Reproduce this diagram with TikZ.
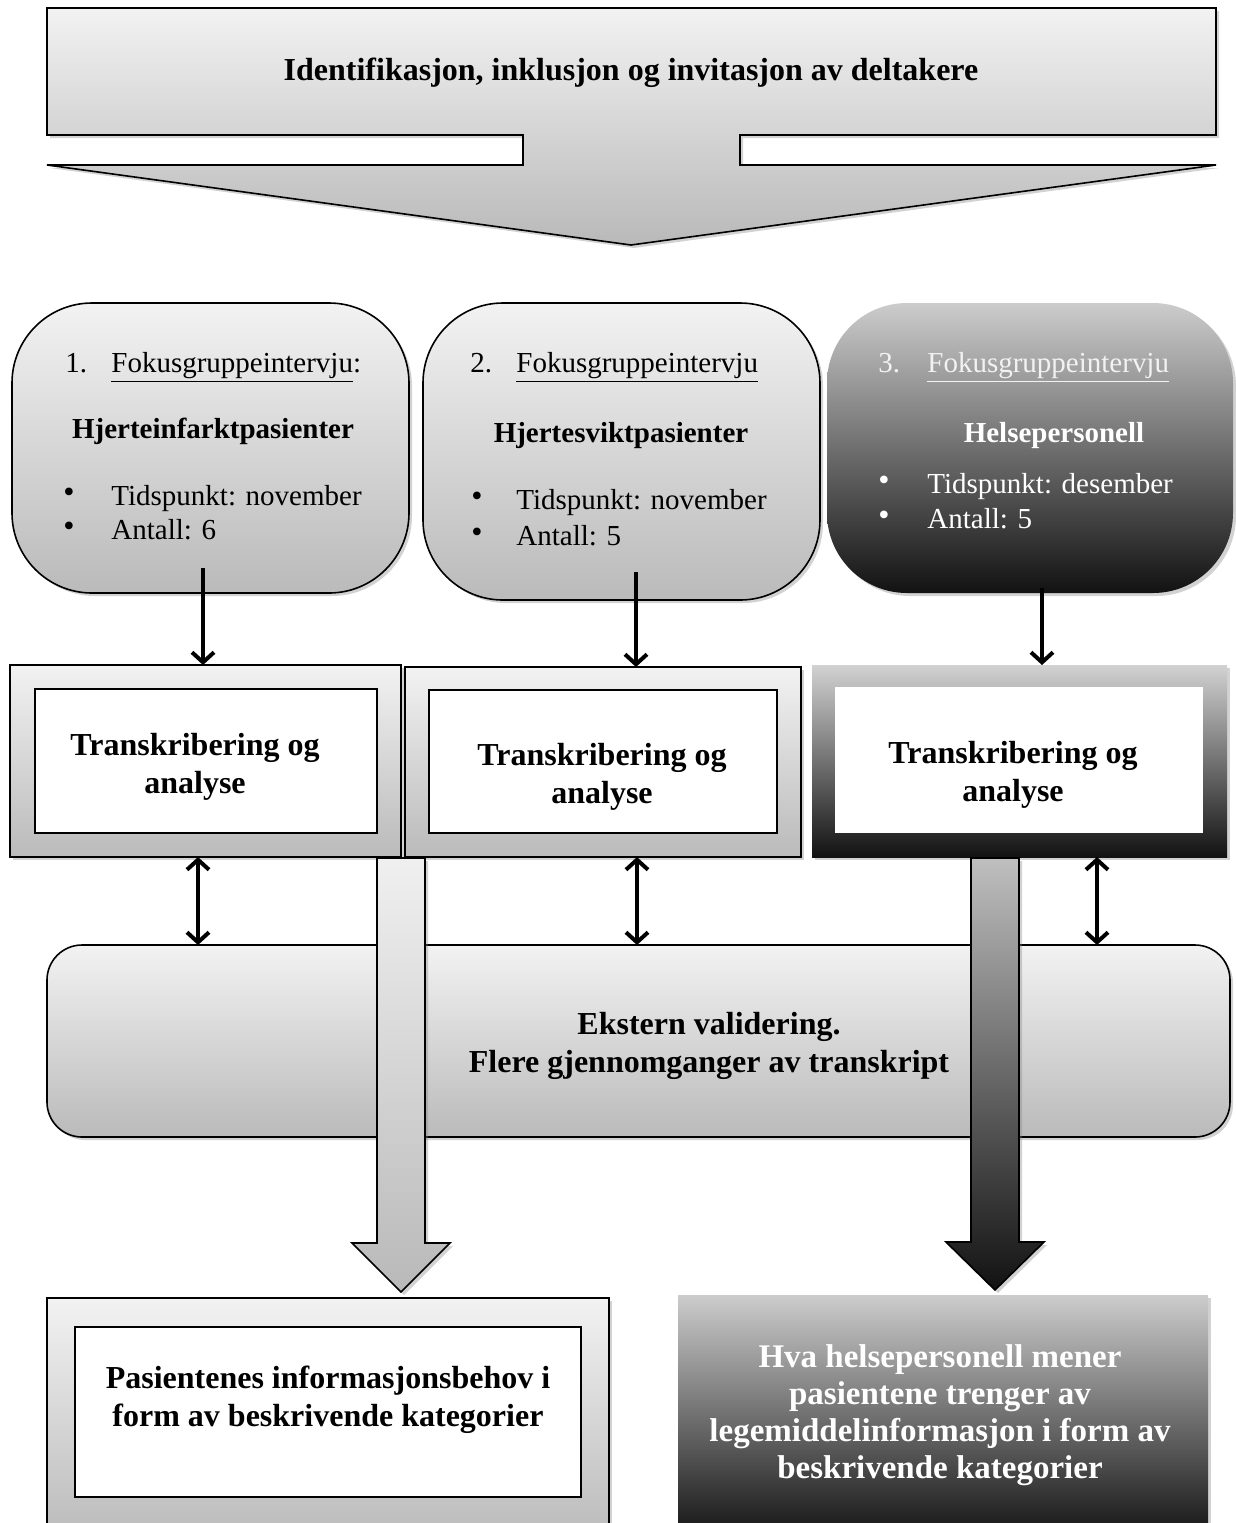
\documentclass[tikz,border=0pt]{standalone}
\usepackage{fontspec}
\setmainfont{Liberation Serif}
\usetikzlibrary{calc,arrows.meta,shadows}

% grey tones of the shaded shapes
\definecolor{paleTop}{gray}{0.95}
\definecolor{paleBot}{gray}{0.73}
\definecolor{darkTop}{gray}{0.80}
\definecolor{darkBot}{gray}{0.07}

\begin{document}
\begin{tikzpicture}[x=0.5pt,y=-0.5pt,
  shade/.style={drop shadow={opacity=0.35,shadow xshift=1.5pt,shadow yshift=-1.5pt}},
  pale/.style={top color=paleTop,bottom color=paleBot,draw=black,line width=0.8pt},
  dark/.style={top color=darkTop,bottom color=darkBot,draw=none},
  box/.style={rectangle,inner sep=0pt,outer sep=0pt},
  roundbox/.style={box,rounded corners=40pt,shade},
  whitebox/.style={box,fill=white},
  txt/.style={inner sep=0pt,font=\fontsize{14.5}{17}\selectfont},
  btxt/.style={inner sep=0pt,font=\bfseries\fontsize{14.5}{17}\selectfont},
  dot/.style={inner sep=0pt,anchor=west,font=\fontsize{16}{16}\selectfont},
  big/.style={inner sep=0pt,align=center,font=\bfseries\fontsize{16}{19}\selectfont},
  conn/.style={line width=2pt,-{Straight Barb[length=5pt,width=11pt]}},
  dconn/.style={line width=2pt,{Straight Barb[length=5pt,width=11pt]}-{Straight Barb[length=5pt,width=11pt]}},
]
\useasboundingbox (0,0) rectangle (1236,1523);
\fill[white] (0,0) rectangle (1236,1523);
\clip (0,0) rectangle (1236,1523);

% ---- recruitment block arrow at the top ----
\path[pale,shade,line width=0.8pt,top color=paleTop,bottom color={gray!55!white}]
  (47,8) -- (1216,8) -- (1216,135) -- (740,135) -- (740,165) -- (1216,165)
  -- (631,245) -- (47,165) -- (523,165) -- (523,135) -- (47,135) -- cycle;
\node[big] (title) at (631,73) {Identifikasjon, inklusjon og invitasjon av deltakere};

% ---- focus groups ----
\node[roundbox,pale,minimum width=198.5pt,minimum height=145pt] (r1) at (210.5,448) {};
\node[roundbox,pale,minimum width=198.5pt,minimum height=148.5pt] (r2) at (621.5,451.5) {};
\node[roundbox,dark,minimum width=203pt,minimum height=145pt] (r3) at (1030,448) {};

\node[txt,anchor=base west] (r1n) at (65,372) {1.};
\node[txt,anchor=base west] (r1h) at (111,372) {\underline{Fokusgruppeintervju}:};
\node[btxt,anchor=base] (r1g) at (213,438) {Hjerteinfarktpasienter};
\node[dot] (r1b1) at (63,495) {\textbullet};
\node[txt,anchor=base west] (r1t1) at (111,505) {Tidspunkt: november};
\node[dot] (r1b2) at (63,529) {\textbullet};
\node[txt,anchor=base west] (r1t2) at (111,539) {Antall: 6};

\node[txt,anchor=base west] (r2n) at (470,372) {2.};
\node[txt,anchor=base west] (r2h) at (516,372) {\underline{Fokusgruppeintervju}};
\node[btxt,anchor=base] (r2g) at (621,442) {Hjertesviktpasienter};
\node[dot] (r2b1) at (471,499) {\textbullet};
\node[txt,anchor=base west] (r2t1) at (516,509) {Tidspunkt: november};
\node[dot] (r2b2) at (471,535) {\textbullet};
\node[txt,anchor=base west] (r2t2) at (516,545) {Antall: 5};

\node[txt,anchor=base west,text=gray!10] (r3n) at (878,372) {3.};
\node[txt,anchor=base west,text=gray!10] (r3h) at (927,372) {\underline{Fokusgruppeintervju}};
\node[btxt,anchor=base,text=white] (r3g) at (1054,442) {Helsepersonell};
\node[dot,text=white] (r3b1) at (878,483) {\textbullet};
\node[txt,anchor=base west,text=white] (r3t1) at (927,493) {Tidspunkt: desember};
\node[dot,text=white] (r3b2) at (878,518) {\textbullet};
\node[txt,anchor=base west,text=white] (r3t2) at (927,528) {Antall: 5};

% ---- transcription and analysis ----
\node[box,pale,shade,minimum width=195.5pt,minimum height=96pt] (t1) at (205.5,761) {};
\node[whitebox,draw=black,line width=0.8pt,minimum width=171pt,minimum height=72pt] (t1i) at (206,761) {};
\node[big] (t1x) at (195,767) {Transkribering og\\analyse};

\node[box,pale,shade,minimum width=198pt,minimum height=95pt] (t2) at (603,762) {};
\node[whitebox,draw=black,line width=0.8pt,minimum width=174pt,minimum height=71.5pt] (t2i) at (603,761.5) {};
\node[big] (t2x) at (602,777) {Transkribering og\\analyse};

\node[box,dark,shade,top color=gray!35,minimum width=207.5pt,minimum height=96pt] (t3) at (1019.5,761) {};
\node[whitebox,minimum width=184pt,minimum height=73pt] (t3i) at (1019,760) {};
\node[big] (t3x) at (1013,775) {Transkribering og\\analyse};

% arrows from the interviews to the analysis
\draw[conn] ($(t1.north |- r1.south)+(-2.5,-25)$) -- ($(t1.north)+(-2.5,0)$);
\draw[conn] ($(t2.north |- r2.south)+(33,-28)$) -- ($(t2.north)+(33,0)$);
\draw[conn] ($(t3.north |- r3.south)+(22.5,-5)$) -- ($(t3.north)+(22.5,0)$);

% ---- external validation ----
\node[box,pale,shade,rounded corners=17.5pt,minimum width=591.5pt,minimum height=96pt] (ek) at (638.5,1041) {};
\node[big] (ekx) at (709,1046) {Ekstern validering.\\Flere gjennomganger av transkript};

\draw[dconn] ($(t1.south)+(-7.5,0)$) coordinate (d1) -- (d1 |- ek.north);
\draw[dconn] ($(t2.south)+(34,0)$) coordinate (d2) -- (d2 |- ek.north);
\draw[dconn] ($(t3.south)+(77.5,0)$) coordinate (d3) -- (d3 |- ek.north);

% ---- results ----
\node[box,pale,shade,minimum width=281pt,minimum height=121pt] (b1) at (328,1419) {};
\node[whitebox,draw=black,line width=0.8pt,minimum width=253pt,minimum height=85pt] (b1i) at (328,1412) {};
\node[big] (b1x) at (328,1400) {Pasientenes informasjonsbehov i\\form av beskrivende kategorier};

\node[box,dark,shade,minimum width=265pt,minimum height=122.5pt] (b2) at (943,1417.5) {};
\node[big,text=white,font=\bfseries\fontsize{16.5}{18.5}\selectfont] (b2x) at (940,1415)
  {Hva helsepersonell mener\\pasientene trenger av\\legemiddelinformasjon i form av\\beskrivende kategorier};

% block arrows leading to the results
\path[pale,shade,top color=gray!12,bottom color=gray!55]
  (377,858) -- (425,858) -- (425,1243) -- (450,1243) -- (401,1292)
  -- (352,1243) -- (377,1243) -- cycle;
\path[shade,draw=black,line width=0.8pt,top color=gray!50,bottom color=darkBot]
  (971,858) -- (1019,858) -- (1019,1242) -- (1044,1242) -- (995,1290)
  -- (946,1242) -- (971,1242) -- cycle;
\end{tikzpicture}
\end{document}
